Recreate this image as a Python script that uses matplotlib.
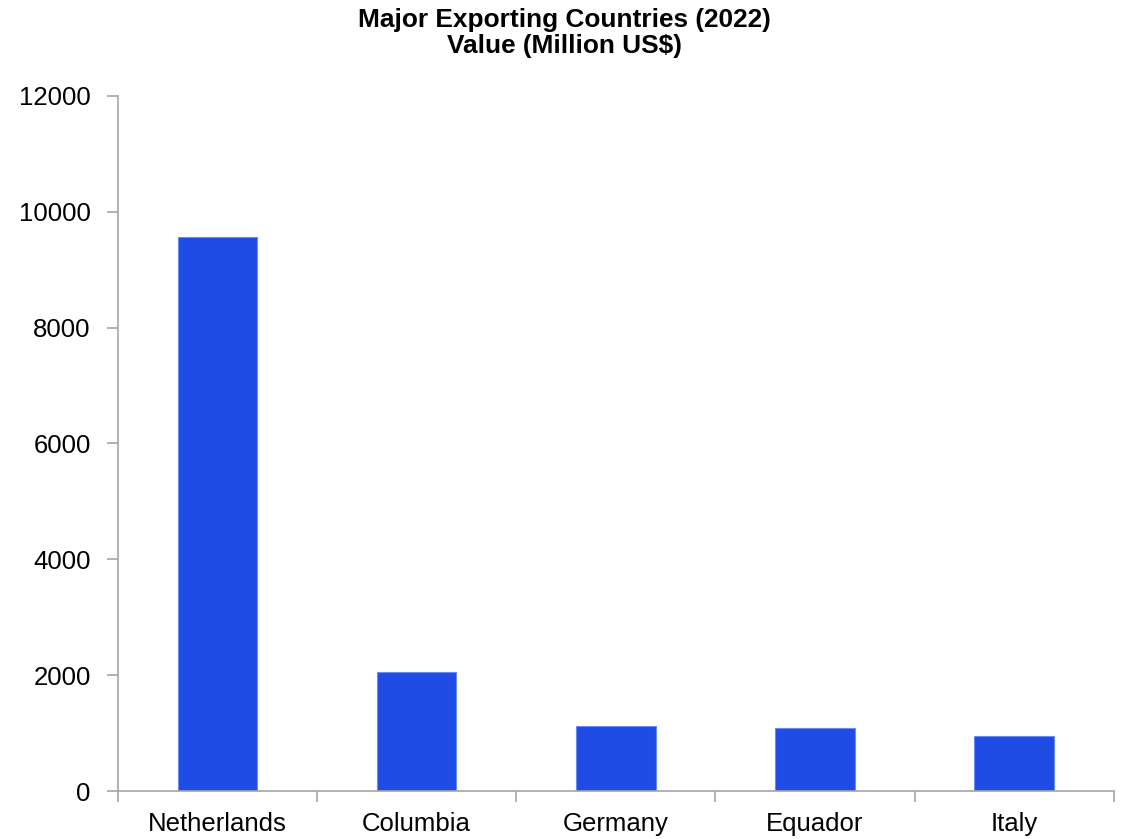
import matplotlib
matplotlib.use("Agg")
import matplotlib.pyplot as plt
import numpy as np

countries = ["Netherlands", "Columbia", "Germany", "Equador", "Italy"]
values = [9565, 2052, 1131, 1091, 953]
yticks = [0, 2000, 4000, 6000, 8000, 10000, 12000]

plt.rcParams['font.family'] = ['Liberation Sans', 'DejaVu Sans']

fig = plt.figure(figsize=(11.29, 8.39), dpi=100)
ax = fig.add_axes([0.1043, 0.0569, 0.8822, 0.8291])

x = np.arange(len(countries))
ax.bar(x, values, width=0.4, color='#1F4CE4', edgecolor='#6A8CF0', linewidth=0.8)

ax.set_xlim(-0.5, len(countries) - 0.5)
ax.set_ylim(0, 12000)
ax.set_yticks(yticks)
ax.set_yticklabels([str(v) for v in yticks])
ax.set_xticks(x)
ax.set_xticklabels(countries)
ax.set_xticks(np.arange(-0.5, len(countries)), minor=True)

gray = '#A6A6A6'
for s in ['top', 'right']:
    ax.spines[s].set_visible(False)
for s in ['left', 'bottom']:
    ax.spines[s].set_color(gray)
    ax.spines[s].set_linewidth(1.2)

ax.tick_params(axis='y', which='major', length=8, width=1.2, color=gray,
               labelsize=18.5, pad=11.5, labelcolor='black')
ax.tick_params(axis='x', which='major', length=0, labelsize=18.5, pad=15, labelcolor='black')
ax.tick_params(axis='x', which='minor', length=8, width=1.2, color=gray)

fig.text(0.5, 0.961, "Major Exporting Countries (2022)\nValue (Million US$)",
         ha='center', va='center', fontsize=18.9, fontweight='bold', linespacing=1.12)

fig.savefig("out.png", dpi=100)
